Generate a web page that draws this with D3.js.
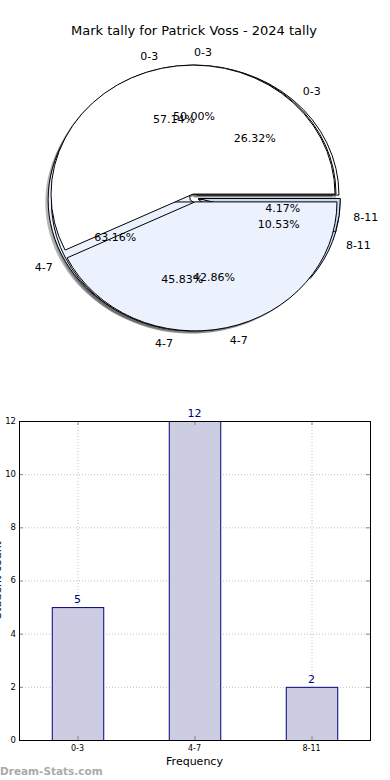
<!DOCTYPE html>
<html>
<head>
<meta charset="utf-8">
<script src="https://cdn.jsdelivr.net/npm/d3@7"></script>
<style>
  body { margin: 0; background: #fff; }
  text { font-family: "DejaVu Sans", sans-serif; }
</style>
</head>
<body>
<div id="chart"></div>
<script>
// tally data
const categories = ["0-3", "4-7", "8-11"];
const tallyA = [4, 3, 0];    // 57.14% / 42.86%
const tallyB = [12, 11, 1];  // 50.00% / 45.83% / 4.17%
const tallyC = [5, 12, 2];   // 26.32% / 63.16% / 10.53%  (same as bars)
const barValues = [5, 12, 2];
const yTicks = [0, 2, 4, 6, 8, 10, 12];
const sliceColors = ["#ffffff", "#ebf1fd", "#c8daf7"];

const width = 390, height = 780;
const svg = d3.select("#chart").append("svg")
  .attr("width", width)
  .attr("height", height);

svg.append("text")
  .attr("x", 194).attr("y", 35)
  .attr("text-anchor", "middle")
  .style("font-size", "13px")
  .text("Mark tally for Patrick Voss - 2024 tally");

// ---- pies (matplotlib style: start at 3 o'clock, counter clockwise, ellipse)
const cx = 194, cy = 198, rx = 142, ry = 129;
const explode = 0.031;

const pie = d3.pie().sort(null)
  .startAngle(Math.PI / 2)
  .endAngle(Math.PI / 2 - 2 * Math.PI);
const arc = d3.arc().innerRadius(0).outerRadius(1);

function slices(vals) {
  const d = categories.map((c, i) => ({cat: c, idx: i, v: vals[i]})).filter(e => e.v > 0);
  const total = d3.sum(d, e => e.v);
  return pie.value(e => e.v)(d).map(s => {
    const mid = (s.startAngle + s.endAngle) / 2;
    s.dx = Math.sin(mid) * explode;
    s.dy = -Math.cos(mid) * explode;
    s.mx = Math.sin(mid);
    s.my = -Math.cos(mid);
    s.pct = (s.data.v / total * 100).toFixed(2) + "%";
    return s;
  });
}

const pies = [tallyC, tallyB, tallyA].map(slices);

const pieG = svg.append("g")
  .attr("transform", `translate(${cx},${cy}) scale(${rx},${ry})`);

// shadows first, below every wedge
pies.forEach(sl => {
  pieG.append("g").selectAll("path").data(sl).join("path")
    .attr("transform", d => `translate(${d.dx - 0.02},${d.dy + 0.02})`)
    .attr("d", arc)
    .attr("fill", d => d3.rgb(sliceColors[d.data.idx]).darker(3.5))
    .attr("fill-opacity", 0.4)
    .attr("stroke", "none");
});

pies.forEach(sl => {
  pieG.append("g").selectAll("path").data(sl).join("path")
    .attr("transform", d => `translate(${d.dx},${d.dy})`)
    .attr("d", arc)
    .attr("fill", d => sliceColors[d.data.idx])
    .attr("stroke", "#000")
    .attr("stroke-width", 1)
    .attr("vector-effect", "non-scaling-stroke");
});

const txtG = svg.append("g").attr("transform", `translate(${cx},${cy})`);
pies.forEach(sl => {
  sl.forEach(d => {
    const lx = (d.dx + 1.1 * d.mx) * rx;
    const ly = (d.dy + 1.1 * d.my) * ry;
    txtG.append("text")
      .attr("x", lx).attr("y", ly)
      .attr("dy", "0.35em")
      .attr("text-anchor", d.mx >= -1e-9 ? "start" : "end")
      .style("font-size", "11px")
      .text(d.data.cat);
    txtG.append("text")
      .attr("x", (d.dx + 0.6 * d.mx) * rx)
      .attr("y", (d.dy + 0.6 * d.my) * ry)
      .attr("dy", "0.35em")
      .attr("text-anchor", "middle")
      .style("font-size", "11px")
      .text(d.pct);
  });
});

// ---- bar chart
const plotL = 19, plotR = 370, plotT = 421, plotB = 740;
const x = d3.scaleLinear().domain([-0.5, 2.5]).range([plotL, plotR]);
const y = d3.scaleLinear().domain([0, 12]).range([plotB, plotT]);
const barW = 0.44;

const grid = svg.append("g")
  .attr("stroke", "#c0c0c0")
  .attr("stroke-dasharray", "1,2")
  .attr("stroke-width", 1);
grid.selectAll("line.h").data(yTicks).join("line")
  .attr("x1", plotL).attr("x2", plotR)
  .attr("y1", d => y(d) + 0.5).attr("y2", d => y(d) + 0.5);
grid.selectAll("line.v").data(categories).join("line")
  .attr("x1", (d, i) => x(i) + 0.5).attr("x2", (d, i) => x(i) + 0.5)
  .attr("y1", plotT).attr("y2", plotB);

svg.append("g").selectAll("rect").data(barValues).join("rect")
  .attr("x", (d, i) => x(i - barW / 2) + 0.5)
  .attr("y", d => y(d) + 0.5)
  .attr("width", (d, i) => x(i + barW / 2) - x(i - barW / 2))
  .attr("height", d => plotB - y(d))
  .attr("fill", "#ccccE2")
  .attr("stroke", "#000080")
  .attr("stroke-width", 1);

svg.append("g").selectAll("text").data(barValues).join("text")
  .attr("x", (d, i) => x(i))
  .attr("y", d => y(d) - 4)
  .attr("text-anchor", "middle")
  .attr("fill", "#000080")
  .style("font-size", "11px")
  .text(d => d);

// ticks pointing inward, on both sides
const ticks = svg.append("g").attr("stroke", "#888").attr("stroke-width", 1);
ticks.selectAll("line.l").data(yTicks).join("line")
  .attr("x1", plotL).attr("x2", plotL + 4)
  .attr("y1", d => y(d) + 0.5).attr("y2", d => y(d) + 0.5);
ticks.selectAll("line.r").data(yTicks).join("line")
  .attr("x1", plotR - 4).attr("x2", plotR)
  .attr("y1", d => y(d) + 0.5).attr("y2", d => y(d) + 0.5);
ticks.selectAll("line.b").data(categories).join("line")
  .attr("x1", (d, i) => x(i) + 0.5).attr("x2", (d, i) => x(i) + 0.5)
  .attr("y1", plotB - 4).attr("y2", plotB);
ticks.selectAll("line.t").data(categories).join("line")
  .attr("x1", (d, i) => x(i) + 0.5).attr("x2", (d, i) => x(i) + 0.5)
  .attr("y1", plotT).attr("y2", plotT + 4);

svg.append("rect")
  .attr("x", plotL + 0.5).attr("y", plotT + 0.5)
  .attr("width", plotR - plotL).attr("height", plotB - plotT)
  .attr("fill", "none").attr("stroke", "#000").attr("stroke-width", 1);

svg.append("g").selectAll("text").data(yTicks).join("text")
  .attr("x", plotL - 3).attr("y", d => y(d))
  .attr("dy", "0.35em")
  .attr("text-anchor", "end")
  .style("font-size", "8.5px")
  .text(d => d);

svg.append("g").selectAll("text").data(categories).join("text")
  .attr("x", (d, i) => x(i)).attr("y", plotB + 11)
  .attr("text-anchor", "middle")
  .style("font-size", "8px")
  .text(d => d);

svg.append("text")
  .attr("x", x(1)).attr("y", 765)
  .attr("text-anchor", "middle")
  .style("font-size", "11px")
  .text("Frequency");

svg.append("text")
  .attr("transform", "translate(1,580) rotate(-90)")
  .attr("text-anchor", "middle")
  .style("font-size", "11px")
  .text("Student count");

svg.append("text")
  .attr("x", 0).attr("y", 775)
  .attr("fill", "#aaa")
  .style("font-size", "10.5px")
  .style("font-weight", "bold")
  .text("Dream-Stats.com");
</script>
</body>
</html>
